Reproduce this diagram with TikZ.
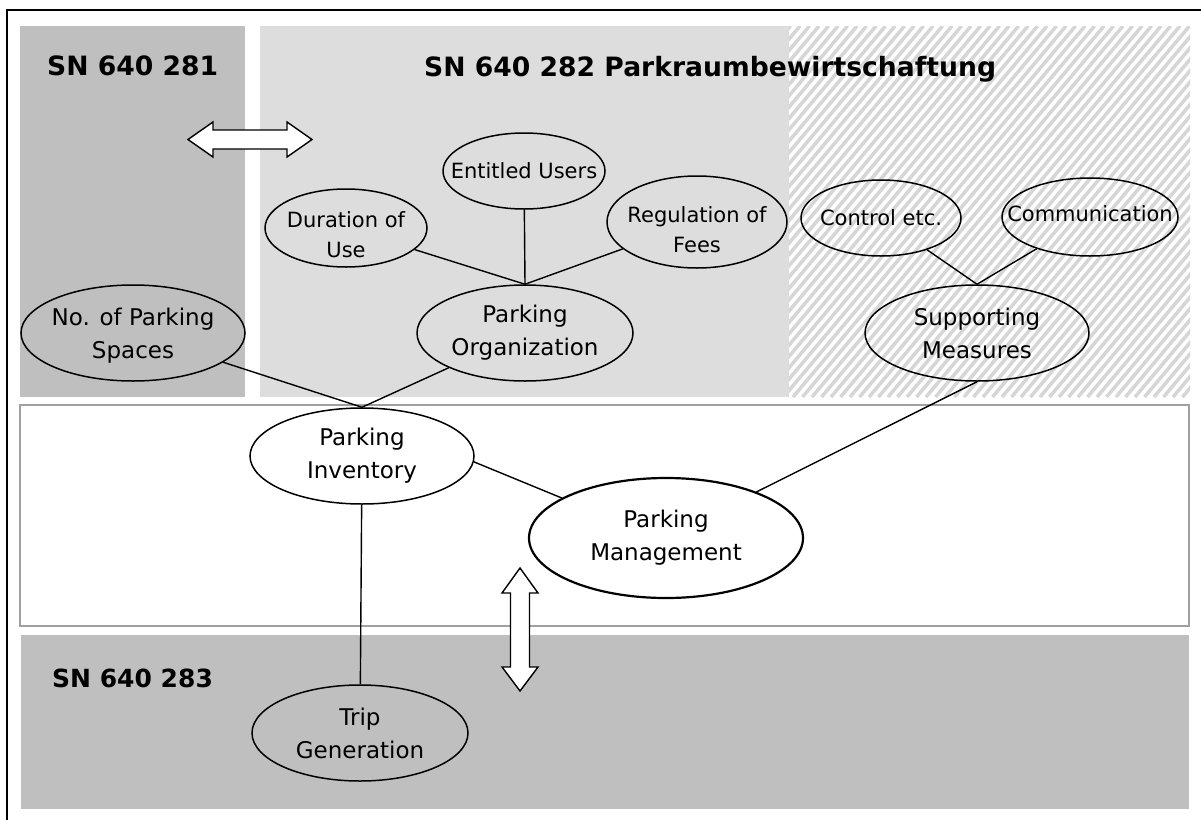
\documentclass[tikz,border=0pt]{standalone}
\usepackage{fontspec}
\setmainfont{DejaVu Sans}
\usetikzlibrary{shapes.geometric}
\definecolor{boxdark}{RGB}{191,191,191}
\definecolor{boxlight}{RGB}{221,221,221}
\definecolor{hatchgray}{RGB}{214,214,214}
\definecolor{midframe}{RGB}{160,160,160}

\begin{document}
\begin{tikzpicture}[x=1pt,y=-1pt,
  ell/.style={ellipse, draw=black, line width=1.5pt, inner sep=0pt},
  lbl/.style={align=center, inner sep=0pt, font=\fontsize{23}{33}\selectfont},
  lblsm/.style={align=center, inner sep=0pt, font=\fontsize{21}{30}\selectfont},
  head/.style={anchor=base west, inner sep=0pt, font=\bfseries\fontsize{26.6}{30}\selectfont},
  link/.style={draw=black, line width=1.4pt},
  blockarrow/.style={draw=black, fill=white, line width=1.4pt, line join=miter}
]
\useasboundingbox (0,0) rectangle (1201,819);
\clip (0,0) rectangle (1201,819);
\fill[white] (0,0) rectangle (1201,819);

% outer frame (runs off the page at right and bottom)
\draw[black, line width=2pt] (7,10) rectangle (1230,850);

% standard areas
\fill[boxdark]  (20,26)  rectangle (245,397);
\fill[boxlight] (260,26) rectangle (789,397);
\begin{scope}
  \clip (789,26) rectangle (1190,397);
  \fill[white] (789,26) rectangle (1190,397);
  \foreach \i in {0,...,76}
    \draw[hatchgray, line width=3.5pt] ({470+\i*9.5},397) -- ++(311,-371);
\end{scope}
\draw[midframe, line width=1.5pt, fill=white] (20,405) rectangle (1189,626);
\fill[boxdark] (21,635) rectangle (1189,809);

% headings
\node[head] (h281) at (47,75) {SN 640 281};
\node[head] (h282) at (424,76) {SN 640 282 Parkraumbewirtschaftung};
\node[head, font=\bfseries\fontsize{25}{28}\selectfont] (h283) at (52,687) {SN 640 283};

% block arrows
\draw[blockarrow] (188,139.5) -- (213,122) -- (213,130) -- (287,130) -- (287,122)
  -- (312,139.5) -- (287,157) -- (287,149) -- (213,149) -- (213,157) -- cycle;
\draw[blockarrow] (520,568) -- (538,593) -- (529.5,593) -- (529.5,667) -- (538,667)
  -- (520,691) -- (502,667) -- (510.5,667) -- (510.5,593) -- (502,593) -- cycle;

% ellipses
\node[ell, fill=boxdark,  minimum width=224, minimum height=96]  (nops) at (133,333) {};
\node[ell, fill=boxlight, minimum width=216, minimum height=96]  (porg) at (525,333) {};
\node[ell, fill=boxlight, minimum width=162, minimum height=78]  (dur)  at (346,228) {};
\node[ell, fill=boxlight, minimum width=162, minimum height=76]  (ent)  at (524,171) {};
\node[ell, fill=boxlight, minimum width=180, minimum height=92]  (reg)  at (697,222) {};
\node[ell, minimum width=160, minimum height=76]  (ctrl) at (881,218) {};
\node[ell, minimum width=176, minimum height=78]  (comm) at (1090,217) {};
\node[ell, minimum width=224, minimum height=96]  (sup)  at (977,333) {};
\node[ell, fill=white, minimum width=224, minimum height=96]  (inv)  at (362,456) {};
\node[ell, fill=white, line width=2.2pt, minimum width=274, minimum height=120] (mgmt) at (666,538) {};
\node[ell, fill=boxdark, minimum width=216, minimum height=96]  (trip) at (360,733) {};

% connectors
\draw[link] (nops) -- (inv.north);
\draw[link] (porg) -- (inv.north);
\draw[link] (dur)  -- (porg.north);
\draw[link] (ent)  -- (porg.north);
\draw[link] (reg)  -- (porg.north);
\draw[link] (ctrl) -- (sup.north);
\draw[link] (comm) -- (sup.north);
\draw[link] (inv.-3) -- (mgmt.159);
\draw[link] (mgmt.27) -- (sup.south);
\draw[link] (inv) -- (trip);

% labels
\node[lbl, yshift=-3] (nops-t) at (nops) {No. of Parking\\Spaces};
\node[lbl] (porg-t) at (porg) {Parking\\Organization};
\node[lblsm, yshift=-7] (dur-t) at (dur) {Duration of\\Use};
\node[lblsm] (ent-t) at (ent) {Entitled Users};
\node[lblsm, yshift=-8] (reg-t) at (reg) {Regulation of\\Fees};
\node[lblsm] (ctrl-t) at (ctrl) {Control etc.};
\node[lblsm, yshift=3] (comm-t) at (comm) {Communication};
\node[lbl] (sup-t) at (sup) {Supporting\\Measures};
\node[lbl] (inv-t) at (inv) {Parking\\Inventory};
\node[lbl] (mgmt-t) at (mgmt) {Parking\\Management};
\node[lbl] (trip-t) at (trip) {Trip\\Generation};
\end{tikzpicture}
\end{document}
